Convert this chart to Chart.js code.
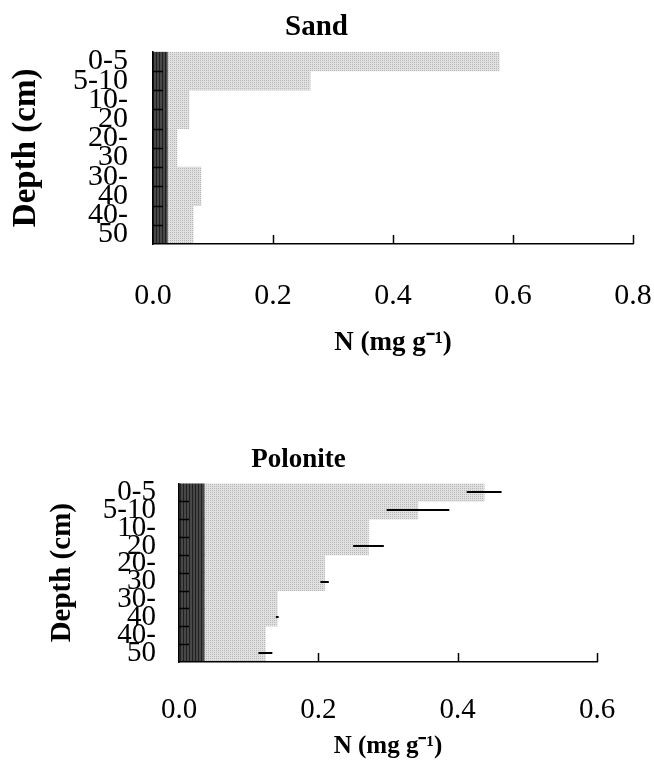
<!DOCTYPE html>
<html>
<head>
<meta charset="utf-8">
<script src="https://cdn.jsdelivr.net/npm/chart.js@4.4.1/dist/chart.umd.min.js"></script>
<style>
  html, body { margin: 0; padding: 0; background: #fff; }
  canvas { position: absolute; left: 0; }
  #sand { top: 0; }
  #polonite { top: 400px; }
</style>
</head>
<body>
<canvas id="sand" width="654" height="380"></canvas>
<canvas id="polonite" width="654" height="365"></canvas>
<script>
// depth layers (cm) and the 5 cm slots used on the axis
const depthLayers = ['0-5', '5-10', '10-20', '20-30', '30-40', '40-50'];
const layerBottom = [5, 10, 20, 30, 40, 50];
const slotLabels = ['0-5', '5-10', '10-', '20', '20-', '30', '30-', '40', '40-', '50'];

// Sand
const sandN = [0.577, 0.262, 0.060, 0.040, 0.080, 0.067];
const sandBase = [0.024, 0.024, 0.024, 0.024, 0.024, 0.024];
const sandTicks = [0, 0.2, 0.4, 0.6, 0.8];

// Polonite
const poloniteN = [0.438, 0.343, 0.272, 0.209, 0.141, 0.124];
const poloniteErr = [0.025, 0.045, 0.022, 0.006, 0.002, 0.010];
const poloniteBase = [0.036, 0.036, 0.036, 0.036, 0.036, 0.036];
const poloniteTicks = [0, 0.2, 0.4, 0.6];

const SERIF = "'Liberation Serif', 'Times New Roman', serif";

function toSlots(values) {
    return slotLabels.map((_, k) => values[layerBottom.findIndex(b => (k + 1) * 5 <= b)]);
}

function makePattern(w, h, bg, fg, dots) {
    const c = document.createElement('canvas');
    c.width = w;
    c.height = h;
    const g = c.getContext('2d');
    g.fillStyle = bg;
    g.fillRect(0, 0, w, h);
    g.fillStyle = fg;
    dots.forEach(([x, y, dw, dh]) => g.fillRect(x, y, dw, dh));
    return g.createPattern(c, 'repeat');
}

const lightFill = makePattern(2, 2, '#e0e0e0', '#b8b8b8', [[0, 0, 1, 1]]);
const darkFill = makePattern(3, 1, '#484848', '#202020', [[0, 0, 1, 1]]);

// inward tick marks + horizontal error bars
const panelMarks = {
    id: 'panelMarks',
    afterDatasetsDraw(chart, args, opts) {
        const ctx = chart.ctx;
        const area = chart.chartArea;
        const xs = chart.scales.x;
        const ys = chart.scales.y;
        ctx.save();
        ctx.strokeStyle = '#000';
        ctx.lineWidth = 1.5;
        ctx.beginPath();
        for (let i = 1; i < slotLabels.length; i++) {
            const py = Math.round((ys.getPixelForValue(i - 1) + ys.getPixelForValue(i)) / 2) + 0.5;
            ctx.moveTo(area.left, py);
            ctx.lineTo(area.left + 10, py);
        }
        opts.ticks.forEach(v => {
            if (v === 0) return;
            const px = Math.round(xs.getPixelForValue(v)) + 0.5;
            ctx.moveTo(px, area.bottom);
            ctx.lineTo(px, area.bottom - 9);
        });
        ctx.stroke();

        if (opts.errors) {
            ctx.lineWidth = 2;
            ctx.beginPath();
            opts.errors.forEach((e, i) => {
                const py = Math.round(ys.getPixelForValue(layerBottom[i] / 5 - 1));
                ctx.moveTo(xs.getPixelForValue(opts.values[i] - e), py);
                ctx.lineTo(xs.getPixelForValue(opts.values[i] + e), py);
            });
            ctx.stroke();
        }
        ctx.restore();
    }
};

function drawPanel(id, cfg) {
    const ctx = document.getElementById(id).getContext('2d');
    const H = ctx.canvas.height;
    new Chart(ctx, {
        type: 'bar',
        data: {
            labels: slotLabels,
            datasets: [{
                label: 'base',
                data: toSlots(cfg.base),
                backgroundColor: darkFill,
                grouped: false,
                order: 0,
                barPercentage: 1,
                categoryPercentage: 1
            }, {
                label: 'N',
                data: toSlots(cfg.values),
                backgroundColor: lightFill,
                grouped: false,
                order: 1,
                barPercentage: 1,
                categoryPercentage: 1
            }]
        },
        options: {
            indexAxis: 'y',
            responsive: false,
            animation: false,
            layout: { padding: { left: 0, right: cfg.padRight, top: 0, bottom: 0 } },
            plugins: {
                legend: { display: false },
                tooltip: { enabled: false },
                title: {
                    display: true,
                    text: cfg.title,
                    color: '#000',
                    font: { family: SERIF, size: cfg.titleSize, weight: 'bold' },
                    padding: cfg.titlePad
                },
                panelMarks: { ticks: cfg.ticks, errors: cfg.errors, values: cfg.values }
            },
            scales: {
                y: {
                    type: 'category',
                    offset: true,
                    grid: { display: false },
                    border: { display: true, color: '#000', width: 1.5, z: 1 },
                    ticks: {
                        autoSkip: false,
                        color: '#000',
                        padding: cfg.yTickPad,
                        font: { family: SERIF, size: cfg.yTickSize }
                    },
                    title: {
                        display: true,
                        text: 'Depth (cm)',
                        color: '#000',
                        font: { family: SERIF, size: cfg.yTitleSize, weight: 'bold' },
                        padding: { top: cfg.yTitlePad, bottom: 0 }
                    },
                    afterFit: s => {
                        s.width = cfg.left;
                        s.paddingTop = 0;
                        s.paddingBottom = 0;
                    }
                },
                x: {
                    type: 'linear',
                    min: 0,
                    max: cfg.ticks[cfg.ticks.length - 1],
                    grid: { display: false, drawTicks: false },
                    border: { display: true, color: '#000', width: 1.5, z: 1 },
                    afterBuildTicks: s => { s.ticks = cfg.ticks.map(v => ({ value: v })); },
                    ticks: {
                        color: '#000',
                        padding: cfg.xTickPad,
                        font: { family: SERIF, size: cfg.xTickSize },
                        callback: v => v.toFixed(1)
                    },
                    title: {
                        display: true,
                        text: 'N (mg g\u207B\u00B9)',
                        color: '#000',
                        font: { family: SERIF, size: cfg.xTitleSize, weight: 'bold' },
                        padding: { top: 0, bottom: cfg.xTitlePad }
                    },
                    afterFit: s => {
                        s.height = H - cfg.bottom;
                        s.paddingLeft = 0;
                        s.paddingRight = 0;
                    }
                }
            }
        },
        plugins: [panelMarks]
    });
}

drawPanel('sand', {
    title: 'Sand', titleSize: 29, titlePad: { top: 10, bottom: 7 },
    values: sandN, base: sandBase, ticks: sandTicks, errors: null,
    left: 153, bottom: 244, padRight: 21,
    yTickSize: 30, yTickPad: 17, yTitleSize: 33, yTitlePad: 7,
    xTickSize: 30, xTickPad: 34, xTitleSize: 27, xTitlePad: 21
});

drawPanel('polonite', {
    title: 'Polonite', titleSize: 27, titlePad: { top: 44, bottom: 7 },
    values: poloniteN, base: poloniteBase, ticks: poloniteTicks, errors: poloniteErr,
    left: 179, bottom: 262, padRight: 57,
    yTickSize: 29, yTickPad: 15, yTitleSize: 29, yTitlePad: 45,
    xTickSize: 29, xTickPad: 31, xTitleSize: 25, xTitlePad: 3
});
</script>
</body>
</html>
